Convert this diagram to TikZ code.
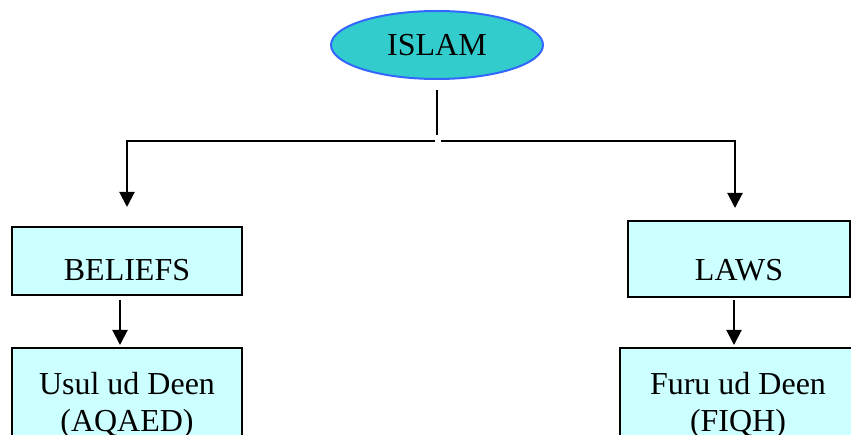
\documentclass[tikz,border=0pt]{standalone}
\usepackage{fontspec}
\setmainfont{Liberation Serif}
\usetikzlibrary{shapes.geometric,arrows.meta}

\definecolor{islamfill}{HTML}{33CCCC}
\definecolor{islamline}{HTML}{3366FF}
\definecolor{boxfill}{HTML}{CCFFFF}

\begin{document}
\begin{tikzpicture}[x=1pt,y=-1pt,line width=2pt,
  font=\fontsize{32}{37}\selectfont,
  box/.style={draw,fill=boxfill,rectangle,inner xsep=0pt,inner ysep=0pt,align=center},
  arr/.style={-{Triangle[length=15pt,width=15pt]}}]

\clip (0,0) rectangle (851,435);

% ISLAM

\node[ellipse,draw=islamline,fill=islamfill,minimum width=212pt,minimum height=68pt,inner sep=0pt] (islam) at (437,45) {ISLAM};

% two branches

\node[box,minimum width=230pt,text height=54pt,text depth=14pt] (beliefs) at (127,261) {BELIEFS};
\node[box,minimum width=222pt,text height=60pt,text depth=16pt] (laws) at (739,259) {LAWS};

\node[box,anchor=north,minimum width=230pt,text height=83pt,text depth=25pt] (usul) at (127,347) {Usul ud Deen\\(AQAED)};
\node[box,anchor=north,minimum width=236pt,text height=83pt,text depth=25pt] (furu) at (738,347) {Furu ud Deen\\(FIQH)};

% connectors

\coordinate (fork) at (437,141);

\draw ([yshift=-10pt]islam.south) -- ([yshift=6pt]fork);
\draw[arr] ([xshift=-2pt]fork) -| ([yshift=19pt]beliefs.north);
\draw[arr] ([xshift=4pt]fork) -| ([xshift=-4pt,yshift=12pt]laws.north);

\draw[arr] ([xshift=-7pt,yshift=-4pt]beliefs.south) -- ([xshift=-7pt,yshift=2pt]usul.north);
\draw[arr] ([xshift=-5pt,yshift=-2pt]laws.south) -- ([xshift=-4pt,yshift=2pt]furu.north);

\end{tikzpicture}
\end{document}
